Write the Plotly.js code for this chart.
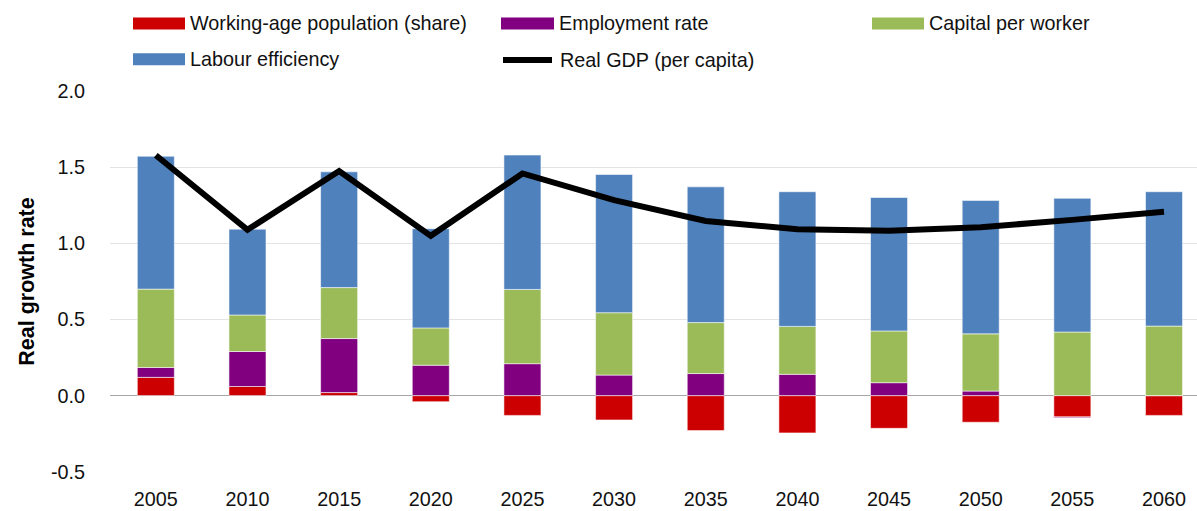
<!DOCTYPE html>
<html>
<head>
<meta charset="utf-8">
<script src="https://cdn.plot.ly/plotly-3.0.1.min.js"></script>
<style>
html,body{margin:0;padding:0;background:#fff;}
#chart{width:1197px;height:511px;}
</style>
</head>
<body>
<div id="chart"></div>
<script>
const years = ["2005","2010","2015","2020","2025","2030","2035","2040","2045","2050","2055","2060"];
const workingAge = [0.12, 0.06, 0.02, -0.04, -0.13, -0.16, -0.23, -0.245, -0.215, -0.175, -0.14, -0.13];
const employment = [0.065, 0.23, 0.355, 0.20, 0.21, 0.135, 0.145, 0.14, 0.085, 0.03, -0.005, 0.0];
const capital = [0.515, 0.24, 0.335, 0.245, 0.488, 0.41, 0.335, 0.315, 0.34, 0.376, 0.418, 0.457];
const labourEff = [0.873, 0.564, 0.761, 0.652, 0.883, 0.908, 0.892, 0.885, 0.877, 0.877, 0.879, 0.883];
const realGDP = [1.58, 1.09, 1.476, 1.05, 1.46, 1.285, 1.148, 1.094, 1.083, 1.107, 1.155, 1.209];
const seriesNames = ["Working-age population (share)", "Employment rate", "Capital per worker", "Labour efficiency", "Real GDP (per capita)"];
const colors = ["#CC0000", "#800080", "#9BBB59", "#4F81BD", "#000000"];
const yTicks = [-0.5, 0, 0.5, 1.0, 1.5, 2.0];
const yTickText = ["-0.5", "0.0", "0.5", "1.0", "1.5", "2.0"];

const FONT = '"Liberation Sans", Arial, sans-serif';
const FS = 19.8;
const W = 1197, H = 511;
const L = 110, R = 0, T = 91, B = 38.5;
const plotW = W - L - R, plotH = H - T - B;

const barVals = [workingAge, employment, capital, labourEff];
const traces = barVals.map((v, i) => ({
  type: 'bar', x: years, y: v, name: seriesNames[i],
  marker: {color: colors[i], line: {color: 'rgba(255,255,255,0.55)', width: 1}},
  showlegend: false, hoverinfo: 'x+y+name'
}));
traces.push({
  type: 'scatter', mode: 'lines', x: years, y: realGDP, name: seriesNames[4],
  line: {color: colors[4], width: 6}, showlegend: false
});

// manual legend (pixel positions converted to paper coords)
const px = x => (x - L) / plotW;
const py = y => (H - B - y) / plotH;
const legendItems = [
  {i: 0, x0: 133, x1: 185, y: 23.3, tx: 189},
  {i: 1, x0: 501, x1: 554, y: 23.3, tx: 558},
  {i: 2, x0: 872, x1: 924, y: 23.3, tx: 928},
  {i: 3, x0: 133, x1: 185, y: 59.2, tx: 189},
  {i: 4, x0: 501, x1: 554, y: 60, tx: 559, line: true}
];
const shapes = [], annotations = [];
legendItems.forEach(it => {
  if (it.line) {
    shapes.push({type: 'line', xref: 'paper', yref: 'paper', x0: px(it.x0 + 2), x1: px(it.x1 - 2), y0: py(it.y), y1: py(it.y),
      line: {color: colors[it.i], width: 6}});
  } else {
    shapes.push({type: 'rect', xref: 'paper', yref: 'paper', x0: px(it.x0), x1: px(it.x1), y0: py(it.y - 6), y1: py(it.y + 6),
      fillcolor: colors[it.i], line: {width: 0}});
  }
  annotations.push({xref: 'paper', yref: 'paper', x: px(it.tx), y: py(it.y), xanchor: 'left', yanchor: 'middle',
    text: seriesNames[it.i], showarrow: false, font: {family: FONT, size: FS, color: '#111'}, borderpad: 0});
});

const layout = {
  width: W, height: H,
  margin: {l: L, r: R, t: T, b: B, autoexpand: false},
  paper_bgcolor: '#fff', plot_bgcolor: '#fff',
  barmode: 'relative', bargap: 0.596,
  showlegend: false,
  font: {family: FONT, size: FS, color: '#111'},
  xaxis: {
    type: 'category', range: [-0.5, 11.36], showgrid: false, zeroline: false, showline: false,
    ticks: 'outside', ticklen: 9, tickcolor: 'rgba(0,0,0,0)', automargin: false,
    tickfont: {family: FONT, size: FS, color: '#111'}, fixedrange: true
  },
  yaxis: {
    range: [-0.502, 2.002], tickvals: yTicks, ticktext: yTickText,
    showgrid: true, gridcolor: '#e3e3e3', gridwidth: 1.5,
    zeroline: true, zerolinecolor: '#a6a6a6', zerolinewidth: 1.5, showline: false,
    ticks: 'outside', ticklen: 20, tickcolor: 'rgba(0,0,0,0)', automargin: false,
    tickfont: {family: FONT, size: FS, color: '#111'},
    title: {text: 'Real growth rate', font: {family: FONT, size: 21.5, color: '#000', weight: 'bold'}, standoff: 10}
  },
  shapes: shapes,
  annotations: annotations
};

Plotly.newPlot('chart', traces, layout, {displayModeBar: false, staticPlot: true});
</script>
</body>
</html>
